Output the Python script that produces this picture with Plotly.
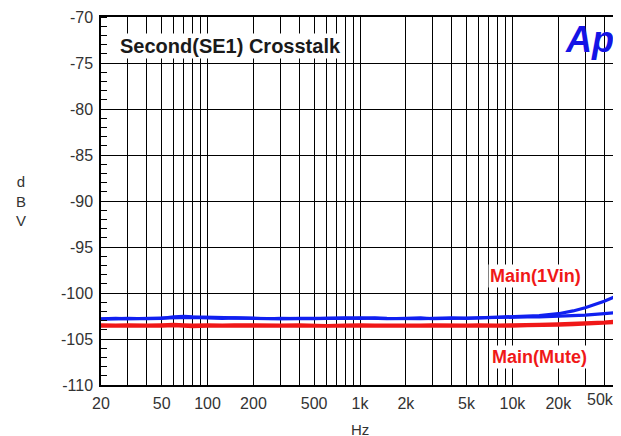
import math
import plotly.graph_objects as go

# ---------------- data ----------------
freq_hz = [20, 25, 30, 40, 50, 60, 70, 80, 100, 125, 150, 200, 250, 300, 400, 500,
           600, 800, 1000, 1250, 1500, 2000, 2500, 3000, 4000, 5000, 6000, 8000,
           10000, 12500, 15000, 20000, 25000, 30000, 40000, 50000]

blue_a_dbv = [-102.85, -102.8, -102.75, -102.8, -102.75, -102.6, -102.55, -102.6, -102.65,
              -102.7, -102.75, -102.8, -102.8, -102.75, -102.8, -102.8, -102.75, -102.7,
              -102.75, -102.7, -102.75, -102.8, -102.8, -102.75, -102.7, -102.75, -102.7,
              -102.65, -102.6, -102.55, -102.45, -102.25, -101.95, -101.6, -100.9, -100.2]

blue_b_dbv = [-102.8, -102.75, -102.8, -102.75, -102.7, -102.65, -102.6, -102.65, -102.7,
              -102.75, -102.7, -102.75, -102.8, -102.8, -102.75, -102.75, -102.8, -102.75,
              -102.7, -102.75, -102.8, -102.75, -102.7, -102.8, -102.75, -102.7, -102.75,
              -102.7, -102.65, -102.6, -102.6, -102.55, -102.45, -102.4, -102.25, -102.1]

red_a_dbv = [-103.45, -103.5, -103.45, -103.5, -103.45, -103.4, -103.45, -103.5, -103.45,
             -103.5, -103.45, -103.5, -103.55, -103.5, -103.45, -103.5, -103.55, -103.5,
             -103.45, -103.5, -103.5, -103.55, -103.5, -103.45, -103.5, -103.5, -103.45,
             -103.5, -103.45, -103.45, -103.4, -103.35, -103.3, -103.25, -103.15, -103.05]

red_b_dbv = [-103.6, -103.6, -103.65, -103.6, -103.6, -103.55, -103.6, -103.65, -103.6,
             -103.6, -103.65, -103.6, -103.6, -103.65, -103.6, -103.65, -103.6, -103.65,
             -103.6, -103.6, -103.65, -103.6, -103.65, -103.6, -103.6, -103.65, -103.6,
             -103.6, -103.6, -103.55, -103.55, -103.5, -103.45, -103.4, -103.3, -103.2]

x_grid_hz = [20, 30, 40, 50, 60, 70, 80, 90, 100, 200, 300, 400, 500, 600, 700, 800, 900,
             1000, 2000, 3000, 4000, 5000, 6000, 7000, 8000, 9000, 10000, 20000, 30000,
             40000, 50000]
x_tick_labels = {20: "20", 50: "50", 100: "100", 200: "200", 500: "500", 1000: "1k",
                 2000: "2k", 5000: "5k", 10000: "10k", 20000: "20k"}
last_tick_label = "50k"

y_ticks = [-110, -105, -100, -95, -90, -85, -80, -75, -70]

title_text = "Second(SE1) Crosstalk"
label_upper = "Main(1Vin)"
label_lower = "Main(Mute)"

# ---------------- figure ----------------
BLUE = "#1020f0"
RED = "#f01818"
TICKFONT = dict(family="Liberation Sans, Arial", size=16, color="#333333")

fig = go.Figure()
for ys, col in [(red_b_dbv, RED), (red_a_dbv, RED), (blue_b_dbv, BLUE), (blue_a_dbv, BLUE)]:
    fig.add_trace(go.Scatter(x=freq_hz, y=ys, mode="lines",
                             line=dict(color=col, width=3.2), showlegend=False,
                             hoverinfo="skip"))

# the page body adds an 8 px offset, so the figure is sized to fit the window
fig.update_layout(
    width=613, height=428,
    margin=dict(l=93, r=2, t=9, b=51, autoexpand=False),
    paper_bgcolor="white", plot_bgcolor="white",
    showlegend=False,
)

fig.update_xaxes(
    type="log",
    range=[math.log10(20), math.log10(50000)],
    tickmode="array",
    tickvals=x_grid_hz,
    ticktext=[x_tick_labels.get(v, "") for v in x_grid_hz],
    showgrid=True, gridcolor="black", gridwidth=1,
    showline=True, linecolor="black", linewidth=1.5, mirror=True,
    ticks="", ticklabelstandoff=3, automargin=False,
    tickfont=TICKFONT, zeroline=False,
)
fig.update_yaxes(
    range=[-110, -70],
    tickmode="array", tickvals=y_ticks, ticktext=[str(v) for v in y_ticks],
    showgrid=True, gridcolor="black", gridwidth=1,
    showline=True, linecolor="black", linewidth=1.5, mirror=True,
    ticks="", ticklabelstandoff=3, automargin=False,
    tickfont=TICKFONT, zeroline=False,
    minor=dict(dtick=1, tick0=-110, ticks="inside", ticklen=6, tickcolor="black",
               tickwidth=1, showgrid=False),
)

# last x tick label, pulled inside the window as on the original
fig.add_annotation(x=math.log10(50000), y=0, xref="x", yref="paper",
                   text=last_tick_label, showarrow=False, xanchor="right", yanchor="top",
                   xshift=-3, yshift=-4, font=TICKFONT)

# axis titles
fig.add_annotation(x=0.5, y=-0.122, xref="paper", yref="paper", text="Hz",
                   showarrow=False, xanchor="center", yanchor="middle",
                   font=dict(family="Liberation Sans", size=15, color="#333333"))
fig.add_annotation(x=-0.1545, y=0.5, xref="paper", yref="paper", text="d<br>B<br>V",
                   showarrow=False, xanchor="center", yanchor="middle",
                   font=dict(family="Liberation Sans", size=15, color="#333333"))

# chart title
fig.add_annotation(x=0.033, y=0.921, xref="paper", yref="paper", text="<b>" + title_text + "</b>",
                   showarrow=False, xanchor="left", yanchor="middle", bgcolor="white",
                   borderpad=1, font=dict(family="Liberation Sans", size=20, color="#1a1a1a"))

# logo
fig.add_annotation(x=0.995, y=0.94, xref="paper", yref="paper", text="<b><i>Ap</i></b>",
                   showarrow=False, xanchor="right", yanchor="middle",
                   font=dict(family="Liberation Sans", size=36, color="#1414e6"))

# curve labels
fig.add_annotation(x=0.747, y=0.296, xref="paper", yref="paper", text="<b>" + label_upper + "</b>",
                   showarrow=False, xanchor="left", yanchor="middle", bgcolor="white",
                   borderpad=1, font=dict(family="Liberation Sans", size=18, color=RED))
fig.add_annotation(x=0.751, y=0.076, xref="paper", yref="paper", text="<b>" + label_lower + "</b>",
                   showarrow=False, xanchor="left", yanchor="middle", bgcolor="white",
                   borderpad=1, font=dict(family="Liberation Sans", size=18, color=RED))

fig.write_html("out.html")
